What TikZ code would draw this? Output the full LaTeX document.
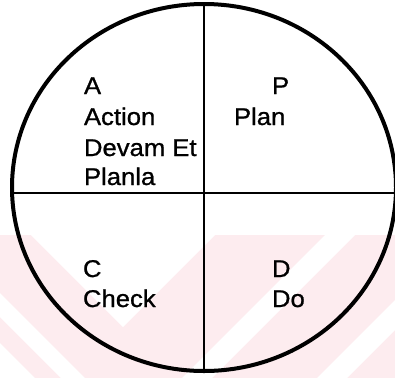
\documentclass[tikz,border=0pt]{standalone}
\usepackage{fontspec}
\setmainfont[FakeStretch=1.06,FakeBold=0.9]{Liberation Sans}
\definecolor{wmpink}{RGB}{253,236,239}
\begin{document}
\begin{tikzpicture}[x=1pt,y=-1pt,
  lbl/.style={inner sep=0pt,outer sep=0pt,anchor=base west,font=\fontsize{24.2}{29}\selectfont},
  rim/.style={line width=4pt},
  divider/.style={line width=1.8pt}]
\useasboundingbox (0,0) rectangle (395,378);
% faint watermark
\fill[wmpink] (0,235) rectangle (395,378);
\fill[white] (31,235) -- (123,327) -- (215,235) -- cycle;
\fill[white] (0,293) -- (0,317) -- (61,378) -- (85,378) -- cycle;
\fill[white] (0,343) -- (0,378) -- (35,378) -- cycle;
\fill[white] (325,235) -- (355,235) -- (212,378) -- (182,378) -- cycle;
\fill[white] (395,300) -- (395,330) -- (347,378) -- (317,378) -- cycle;
% circle and dividers
\coordinate (top) at (204,4);
\coordinate (bot) at (204,371);
\coordinate (lft) at (11,193);
\coordinate (rgt) at (395,193);
\draw[rim] (204,187.5) ellipse [x radius=192, y radius=183.5];
\draw[divider] (top) -- (bot);
\draw[divider] (lft) -- (rgt);
% texts
\node[lbl] (a1) at (84,94) {A};
\node[lbl] (a2) at (84,125) {Action};
\node[lbl] (a3) at (84,156) {Devam Et};
\node[lbl] (a4) at (84,185) {Planla};
\node[lbl] (p1) at (272,94) {P};
\node[lbl] (p2) at (234,125) {Plan};
\node[lbl] (c1) at (83,277) {C};
\node[lbl] (c2) at (83,307) {Check};
\node[lbl] (d1) at (272,277) {D};
\node[lbl] (d2) at (272,307) {Do};
\end{tikzpicture}
\end{document}
